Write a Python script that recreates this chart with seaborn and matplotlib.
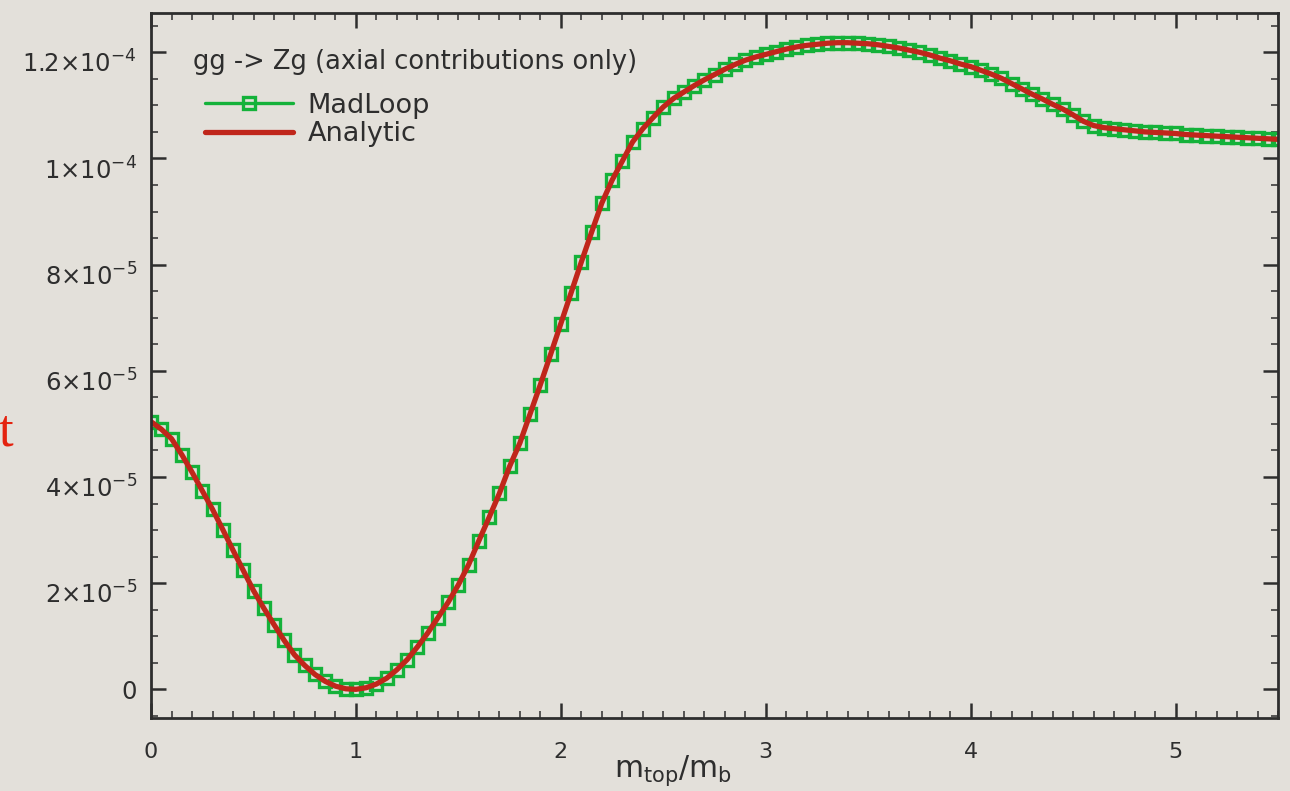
import numpy as np
import pandas as pd
import matplotlib
matplotlib.use("Agg")
import matplotlib.pyplot as plt
import matplotlib.transforms as mtransforms
from matplotlib.ticker import MultipleLocator, FixedLocator
import seaborn as sns

# ratio of top-quark mass to bottom-quark mass, sampled every 0.05
mass_ratio = [round(0.05 * i, 2) for i in range(111)]

# cross section (units of 1e-5), gg -> Zg axial part
sigma_e5 = [
    5.04, 4.90, 4.72, 4.42, 4.09, 3.74, 3.39, 3.01, 2.62, 2.24,
    1.86, 1.53, 1.22, 0.92, 0.65, 0.45, 0.28, 0.15, 0.06, 0.01,
    0.00, 0.03, 0.10, 0.21, 0.37, 0.56, 0.80, 1.06, 1.35, 1.64,
    1.97, 2.35, 2.80, 3.24, 3.69, 4.20, 4.64, 5.19, 5.74, 6.31,
    6.89, 7.47, 8.05, 8.61, 9.16, 9.59, 9.95, 10.31, 10.56, 10.77,
    10.97, 11.13, 11.25, 11.37, 11.48, 11.58, 11.68, 11.77, 11.85, 11.91,
    11.96, 12.01, 12.06, 12.10, 12.13, 12.15, 12.17, 12.18, 12.18, 12.17,
    12.16, 12.14, 12.11, 12.08, 12.04, 12.00, 11.95, 11.89, 11.84, 11.78,
    11.73, 11.66, 11.59, 11.51, 11.41, 11.31, 11.21, 11.12, 11.02, 10.93,
    10.82, 10.70, 10.62, 10.58, 10.56, 10.54, 10.52, 10.50, 10.49, 10.48,
    10.47, 10.45, 10.44, 10.43, 10.42, 10.41, 10.40, 10.39, 10.38, 10.37,
    10.36,
]

y_ticks = [0, 2e-5, 4e-5, 6e-5, 8e-5, 1e-4, 1.2e-4]
y_tick_labels = ["0", r"$2{\times}10^{-5}$", r"$4{\times}10^{-5}$", r"$6{\times}10^{-5}$",
                 r"$8{\times}10^{-5}$", r"$1{\times}10^{-4}$", r"$1.2{\times}10^{-4}$"]
x_ticks = [0, 1, 2, 3, 4, 5]
x_tick_labels = ["0", "1", "2", "3", "4", "5"]

legend_title = "gg -> Zg (axial contributions only)"
series_names = ["MadLoop", "Analytic"]

sigma = [v * 1e-5 for v in sigma_e5]
df = pd.DataFrame({"ratio": mass_ratio, "MadLoop": sigma, "Analytic": sigma})

sns.set_theme(style="ticks")
plt.rcParams["font.family"] = ["DejaVu Sans"]
plt.rcParams["mathtext.fontset"] = "dejavusans"

paper = "#e3e0da"
ink = "#2e2e2e"
green = "#14b23a"
red = "#c0261b"

fig = plt.figure(figsize=(12.9, 7.91), dpi=100, facecolor=paper)
ax = fig.add_axes([0.1171, 0.0923, 0.8736, 0.8913])
ax.set_facecolor(paper)

sns.lineplot(data=df, x="ratio", y="MadLoop", ax=ax, color=green, linewidth=2.4,
             marker="s", markersize=9, markerfacecolor="none",
             markeredgecolor=green, markeredgewidth=2.4, label=series_names[0])
sns.lineplot(data=df, x="ratio", y="Analytic", ax=ax, color=red, linewidth=3.8,
             label=series_names[1])

ax.set_xlim(0, 5.5)
ax.set_ylim(-0.54e-5, 12.74e-5)

ax.xaxis.set_major_locator(FixedLocator(x_ticks))
ax.set_xticklabels(x_tick_labels)
ax.xaxis.set_minor_locator(MultipleLocator(0.1))
ax.yaxis.set_major_locator(FixedLocator(y_ticks))
ax.set_yticklabels(y_tick_labels)
ax.yaxis.set_minor_locator(MultipleLocator(0.5e-5))

ax.tick_params(which="both", direction="in", top=True, right=True, colors=ink,
               labelcolor=ink)
ax.tick_params(which="major", length=10.5, width=1.8)
ax.tick_params(which="minor", length=5, width=1.1)
ax.tick_params(axis="x", which="major", pad=17, labelsize=16)
ax.tick_params(axis="y", which="major", pad=10, labelsize=17.5)
for side in ax.spines.values():
    side.set_color(ink)
    side.set_linewidth(2.0)

# drop the powers-of-ten labels so their digits sit level with the ticks
shift = mtransforms.ScaledTranslation(0, -7 / 72, fig.dpi_scale_trans)
for lab in ax.get_yticklabels():
    if lab.get_text() != "0":
        lab.set_transform(lab.get_transform() + shift)

ax.set_ylabel("")
ax.set_xlabel(r"$\mathregular{m_{top}/m_b}$", fontsize=21.5, color=ink)
ax.xaxis.set_label_coords(0.463, -0.05)

ax.text((193 - 151) / 1127, (718 - 62) / 705, legend_title, transform=ax.transAxes,
        fontsize=18.5, color=ink, ha="left", va="center")

leg = ax.legend(loc="upper left", bbox_to_anchor=((205 - 151) / 1127, (718 - 93) / 705),
                frameon=False, fontsize=19.5, handlelength=3.26,
                handletextpad=0.52, labelspacing=0.08, borderpad=0.0,
                borderaxespad=0.0)
for txt in leg.get_texts():
    txt.set_color(ink)

# fragment of slide text at the left edge
fig.text(0.010, 0.437, "t", family="Liberation Serif", fontsize=38,
         color="#e4230f", ha="right", va="baseline")

fig.savefig("out.png", dpi=100, facecolor=paper)
